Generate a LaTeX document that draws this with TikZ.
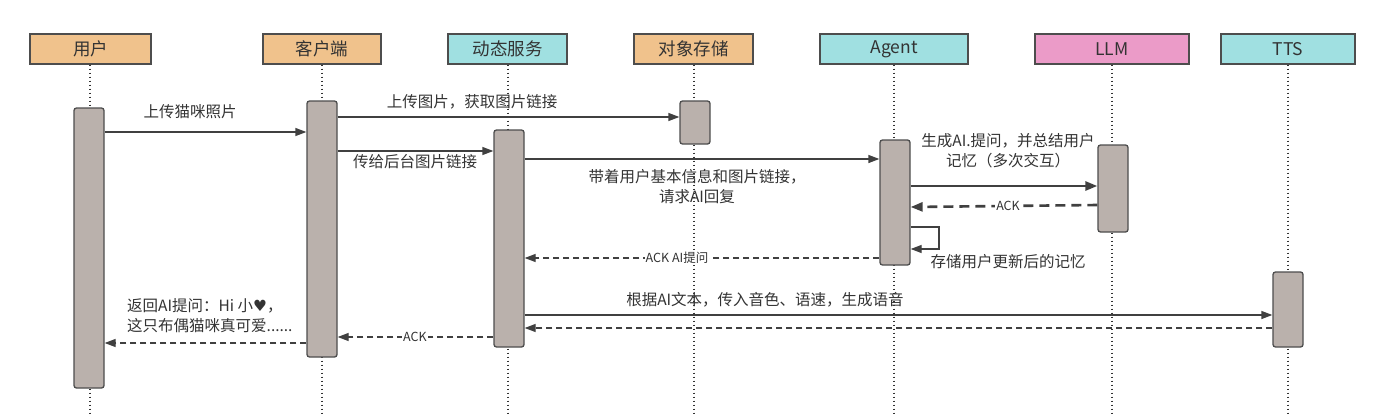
\documentclass[tikz,border=0pt]{standalone}
\usepackage{fontspec}
\setmainfont{Noto Sans CJK SC}
\newfontfamily\djv{DejaVu Sans}
\usetikzlibrary{arrows.meta,calc}
\definecolor{orangeh}{HTML}{F0C28C}
\definecolor{tealh}{HTML}{A0E0E1}
\definecolor{pinkh}{HTML}{EB9BC8}
\definecolor{barfill}{HTML}{BAB1AC}
\definecolor{edge}{HTML}{4D4D4D}
\definecolor{ink}{HTML}{333333}
\definecolor{arr}{HTML}{404040}
\begin{document}
\begin{tikzpicture}[x=1pt,y=-1pt,
  header/.style={draw=edge,line width=1.3pt,minimum height=30pt,inner sep=0pt,text=ink,font=\fontsize{17.5}{20}\selectfont},
  bar/.style={draw=edge,line width=1.3pt,fill=barfill,rounded corners=2.5pt,minimum width=30pt,inner sep=0pt},
  life/.style={draw=ink,line width=1.4pt,dash pattern=on 1.4pt off 2.6pt},
  msg/.style={draw=arr,line width=1.3pt,-{Triangle[length=11pt,width=8pt]}},
  ret/.style={draw=arr,line width=1.3pt,dash pattern=on 6pt off 4pt,-{Triangle[length=11pt,width=8pt]}},
  lbl/.style={text=ink,font=\fontsize{15.5}{20}\selectfont,inner sep=0pt,align=center},
  slbl/.style={text=ink,font=\fontsize{12.5}{14}\selectfont,fill=white,inner sep=1pt}]
\useasboundingbox (0,0) rectangle (1383,415);
% headers
\node[header,fill=orangeh,minimum width=121pt] (hu) at (90.5,49) {用户};
\node[header,fill=orangeh,minimum width=118pt] (hc) at (322,49) {客户端};
\node[header,fill=tealh,minimum width=119pt] (hd) at (507.5,49) {动态服务};
\node[header,fill=orangeh,minimum width=119pt] (ho) at (693.5,49) {对象存储};
\node[header,fill=tealh,minimum width=148pt] (ha) at (894,49) {Agent};
\node[header,fill=pinkh,minimum width=154pt] (hl) at (1112,49) {LLM};
\node[header,fill=tealh,minimum width=134pt] (ht) at (1288,49) {TTS};
% lifelines
\coordinate (eu) at (90,415);
\coordinate (ec) at (322,415);
\coordinate (ed) at (508,415);
\coordinate (eo) at (694,415);
\coordinate (ea) at (894,415);
\coordinate (el) at (1112,415);
\coordinate (et) at (1288,415);
\draw[life] (hu.south -| eu) -- (eu);
\draw[life] (hc.south -| ec) -- (ec);
\draw[life] (hd.south -| ed) -- (ed);
\draw[life] (ho.south -| eo) -- (eo);
\draw[life] (ha.south -| ea) -- (ea);
\draw[life] (hl.south -| el) -- (el);
\draw[life] (ht.south -| et) -- (et);
% activation bars
\node[bar,minimum height=280pt] (bu) at (89,248) {};
\node[bar,minimum height=256pt] (bc) at (322,229) {};
\node[bar,minimum height=217pt] (bd) at (509,238.5) {};
\node[bar,minimum height=43pt] (bo) at (695,122.5) {};
\node[bar,minimum height=125pt] (ba) at (895,202.5) {};
\node[bar,minimum height=87pt] (bl) at (1113,188.5) {};
\node[bar,minimum height=75pt] (bt) at (1288,309.5) {};
% messages
\draw[msg] (bu.east |- 0,132) -- (bc.west |- 0,132);
\node[lbl] (m1) at (190,112) {上传猫咪照片};
\draw[msg] (bc.east |- 0,117) -- (bo.west |- 0,117);
\node[lbl] (m2) at (472,102) {上传图片，获取图片链接};
\draw[msg] (bc.east |- 0,151) -- (bd.west |- 0,151);
\node[lbl] (m3) at (415,162) {传给后台图片链接};
\draw[msg] (bd.east |- 0,159) -- (ba.west |- 0,159);
\node[lbl] (m4) at (697,187) {带着用户基本信息和图片链接，\\请求AI回复};
\draw[draw=arr,line width=2.6pt,-{Triangle[length=12pt,width=9pt]}] (ba.east |- 0,186) -- (bl.west |- 0,186);
\node[lbl] (m5) at (1008,150.5) {生成AI.提问，并总结用户\\记忆（多次交互）};
\draw[draw=arr,line width=2.6pt,dash pattern=on 10pt off 6pt,-{Triangle[length=12pt,width=9pt]}] (bl.west |- 0,205) -- (ba.east |- 0,207);
\node[slbl] (k1) at (1008,206) {ACK};
\coordinate (s1) at (939,227);
\coordinate (s2) at (939,249);
\draw[msg] (ba.east |- s1) -- (s1) -- (s2) -- (ba.east |- s2);
\node[lbl] (m6) at (1008,262) {存储用户更新后的记忆};
\draw[ret] (ba.west |- 0,258) -- (bd.east |- 0,258);
\node[slbl] (k2) at (677,258) {ACK AI提问};
\draw[msg] (bd.east |- 0,315) -- (bt.west |- 0,315);
\node[lbl] (m7) at (765,300) {根据AI文本，传入音色、语速，生成语音};
\draw[ret] (bt.west |- 0,328) -- (bd.east |- 0,328);
\draw[ret] (bd.west |- 0,337) -- (bc.east |- 0,337);
\node[slbl] (k3) at (415,337) {ACK};
\draw[ret] (bc.west |- 0,343) -- (bu.east |- 0,343);
\node[lbl,align=left,anchor=north west] (m8) at (127,298) {返回AI提问：Hi 小{\djv ♥}，\\这只布偶猫咪真可爱......};
\end{tikzpicture}
\end{document}
